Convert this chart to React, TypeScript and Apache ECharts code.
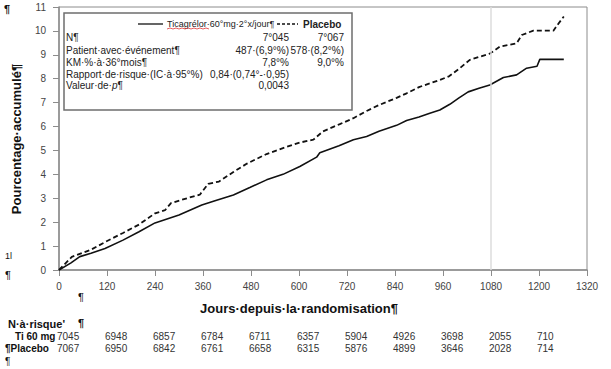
import React, { useEffect, useRef } from "react";
import * as echarts from "echarts";

const ticDays = [0, 30, 52, 80, 115, 160, 200, 240, 300, 357, 390, 436, 477, 519, 560, 602, 644, 652, 700, 736, 769, 800, 844, 869, 900, 927, 952, 977, 1000, 1023, 1050, 1077, 1111, 1144, 1169, 1195, 1202, 1262];
const ticVals = [0, 0.3, 0.56, 0.7, 0.9, 1.25, 1.6, 1.97, 2.3, 2.72, 2.9, 3.14, 3.45, 3.77, 4.0, 4.33, 4.72, 4.9, 5.2, 5.45, 5.58, 5.8, 6.05, 6.25, 6.4, 6.56, 6.69, 6.93, 7.2, 7.45, 7.6, 7.74, 8.05, 8.16, 8.44, 8.52, 8.81, 8.81];

const plDays = [0, 32, 80, 119, 160, 200, 240, 265, 280, 320, 352, 373, 400, 436, 470, 519, 560, 602, 636, 660, 702, 736, 769, 800, 844, 869, 900, 952, 975, 1002, 1027, 1077, 1102, 1144, 1157, 1186, 1236, 1248, 1262];
const plVals = [0, 0.55, 0.85, 1.2, 1.55, 1.9, 2.37, 2.5, 2.8, 3.0, 3.15, 3.6, 3.7, 4.1, 4.45, 4.85, 5.1, 5.33, 5.45, 5.8, 6.1, 6.35, 6.65, 6.9, 7.2, 7.39, 7.65, 7.95, 8.1, 8.44, 8.79, 9.05, 9.34, 9.48, 9.83, 10.01, 10.01, 10.29, 10.6];

const riskDays = [0, 120, 240, 360, 480, 600, 720, 840, 960, 1080, 1200];
const riskTi = [7045, 6948, 6857, 6784, 6711, 6357, 5904, 4926, 3698, 2055, 710];
const riskPl = [7067, 6950, 6842, 6761, 6658, 6315, 5876, 4899, 3646, 2028, 714];

const statLabels = ["N¶", "Patient·avec·événement¶", "KM·%·à·36°mois¶", "Rapport·de·risque·(IC·à·95°%)", "{n|Valeur·de·}{i|p}{n|¶}"];
const statTi = ["7°045", "487·(6,9°%)", "7,8°%", "0,84·(0,74°-·0,95)", "0,0043"];
const statPl = ["7°067", "578·(8,2°%)", "9,0°%", "", ""];

const xTitle = "Jours·depuis·la·randomisation¶";
const yTitle = "Pourcentage·accumulé¶";
const FONT = "Liberation Sans, Arial, sans-serif";

export default function App() {
  const ref = useRef<HTMLDivElement>(null);
  useEffect(() => {
    if (!ref.current) return;
    const chart = echarts.init(ref.current, null, { renderer: "svg" });
    const axisColor = "#8c8c8c";
    chart.setOption({
      animation: false,
      grid: { left: 59, right: 24, top: 7, bottom: 99, show: true, borderColor: axisColor, borderWidth: 1 },
      xAxis: {
        type: "value", min: 0, max: 1320, interval: 120,
        axisLine: { show: true, lineStyle: { color: axisColor, width: 1.5 } },
        axisTick: { show: true, length: 6, lineStyle: { color: axisColor } },
        axisLabel: { color: "#444", fontSize: 10, fontFamily: FONT, margin: 11, formatter: (v: number) => String(v) },
        splitLine: { show: false },
      },
      yAxis: {
        type: "value", min: 0, max: 11, interval: 1,
        axisLine: { show: true, lineStyle: { color: axisColor, width: 1.5 } },
        axisTick: { show: true, length: 6, lineStyle: { color: axisColor } },
        axisLabel: { color: "#444", fontSize: 10, fontFamily: FONT, margin: 13 },
        splitLine: { show: false },
      },
      series: [
        {
          type: "line", name: "Ticagrélor", symbol: "none",
          data: ticDays.map((d, i) => [d, ticVals[i]]),
          lineStyle: { color: "#111", width: 1.6 },
          markLine: {
            silent: true, symbol: "none", label: { show: false },
            lineStyle: { color: "#dcdcdc", width: 1.5, type: "solid" },
            data: [{ xAxis: 1080 }],
          },
        },
        {
          type: "line", name: "Placebo", symbol: "none",
          data: plDays.map((d, i) => [d, plVals[i]]),
          lineStyle: { color: "#111", width: 1.8, type: [5, 3] },
        },
      ],
    });

    const els: any[] = [];
    const txt = (x: number, y: number, text: string, o: any = {}) =>
      els.push({
        type: "text", x, y,
        style: { text, fontFamily: FONT, fontSize: 10, fill: "#222", verticalAlign: "middle", ...o },
      });

    // stats box
    els.push({ type: "rect", shape: { x: 64, y: 13, width: 288, height: 97 }, style: { fill: "#fff", stroke: "#6e6e6e", lineWidth: 1.5 } });
    els.push({ type: "line", shape: { x1: 138, y1: 24, x2: 163, y2: 24 }, style: { stroke: "#111", lineWidth: 1.3 } });
    txt(167, 24, "Ticagrélor·60°mg·2°x/jour¶", { fontSize: 9 });
    els.push({ type: "polyline", shape: { points: [[167, 29], [170, 28], [173, 29], [176, 28], [179, 29], [182, 28], [185, 29], [188, 28], [191, 29], [194, 28], [197, 29], [200, 28], [203, 29], [206, 28], [209, 29]] }, style: { stroke: "#d33", lineWidth: 0.8, fill: null } });
    els.push({ type: "line", shape: { x1: 277, y1: 24, x2: 298, y2: 24 }, style: { stroke: "#111", lineWidth: 1.3, lineDash: [3, 2] } });
    txt(303, 24, "Placebo", { fontSize: 10, fontWeight: "bold" });
    const rowsY = [37, 50, 62, 74, 85];
    statLabels.forEach((l, i) => {
      txt(66, rowsY[i], l, {
        rich: { n: { fontFamily: FONT, fontSize: 10, fill: "#222" }, i: { fontFamily: FONT, fontSize: 10, fontStyle: "italic", fill: "#222" } },
      });
      if (statTi[i]) txt(289, rowsY[i], statTi[i], { align: "right" });
      if (statPl[i]) txt(344, rowsY[i], statPl[i], { align: "right" });
    });

    // titles
    txt(299, 308, xTitle, { fontSize: 13, fontWeight: "bold", align: "center", fill: "#111" });
    els.push({
      type: "text", x: 16, y: 139, rotation: Math.PI / 2,
      style: { text: yTitle, fontFamily: FONT, fontSize: 13, fontWeight: "bold", fill: "#111", align: "center", verticalAlign: "middle" },
    });

    // risk table
    txt(8, 324, "N·à·risque'", { fontSize: 11, fontWeight: "bold", fill: "#111" });
    txt(78, 323, "¶", { fontSize: 11, fontWeight: "bold", fill: "#111" });
    txt(15, 336, "Ti 60 mg", { fontSize: 10, fontWeight: "bold", fill: "#111" });
    txt(5, 348, "¶Placebo", { fontSize: 10, fontWeight: "bold", fill: "#111" });
    riskDays.forEach((d, i) => {
      const x = chart.convertToPixel({ xAxisIndex: 0 }, d) as number;
      txt(x - 2, 336, String(riskTi[i]), { fill: "#333" });
      txt(x - 2, 348, String(riskPl[i]), { fill: "#333" });
    });

    // stray pilcrows
    txt(4, 9, "¶", { fontSize: 11, fontWeight: "bold", fill: "#111" });
    txt(5, 256, "1l", { fontSize: 9, fill: "#111" });
    txt(5, 275, "¶", { fontSize: 11, fill: "#111" });
    txt(78, 297, "¶", { fontSize: 11, fill: "#111" });
    txt(5, 361, "¶", { fontSize: 10, fill: "#111" });

    chart.setOption({ graphic: { elements: els } });
    return () => chart.dispose();
  }, []);
  return <div ref={ref} style={{ position: "fixed", left: 0, top: 0, width: 611, height: 369, background: "#fff" }} />;
}
